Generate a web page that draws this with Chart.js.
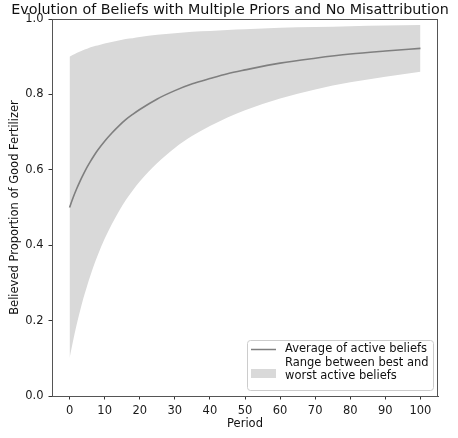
<!DOCTYPE html>
<html>
<head>
<meta charset="utf-8">
<script src="https://cdn.jsdelivr.net/npm/chart.js@4"></script>
<style>
  html, body { margin: 0; padding: 0; background: #fff; }
</style>
</head>
<body>
<canvas id="beliefChart" width="458" height="438"></canvas>
<script>
// belief paths over time
const periods       = [0, 1, 2, 3, 4, 5, 6, 7, 8, 10, 12, 14, 16, 18, 20, 25, 30, 35, 40, 45, 50, 60, 70, 80, 90, 100];
const averageBelief = [0.500, 0.526, 0.549, 0.570, 0.589, 0.607, 0.623, 0.638, 0.652, 0.676, 0.697, 0.716, 0.733, 0.747, 0.760, 0.788, 0.810, 0.828, 0.842, 0.855, 0.865, 0.883, 0.896, 0.907, 0.915, 0.922];
const bestBelief    = [0.900, 0.905, 0.910, 0.914, 0.918, 0.921, 0.925, 0.928, 0.930, 0.935, 0.939, 0.943, 0.947, 0.949, 0.952, 0.958, 0.962, 0.966, 0.968, 0.971, 0.973, 0.977, 0.979, 0.981, 0.983, 0.984];
const worstBelief   = [0.100, 0.146, 0.188, 0.226, 0.261, 0.292, 0.321, 0.348, 0.373, 0.417, 0.455, 0.489, 0.519, 0.545, 0.569, 0.618, 0.658, 0.690, 0.716, 0.739, 0.758, 0.789, 0.813, 0.832, 0.847, 0.860];

const xTicks = [0, 10, 20, 30, 40, 50, 60, 70, 80, 90, 100];
const yTicks = [0, 0.2, 0.4, 0.6, 0.8, 1.0];

const titleText = 'Evolution of Beliefs with Multiple Priors and No Misattribution';
const xLabel = 'Period';
const yLabel = 'Believed Proportion of Good Fertilizer';
const lineLabel = ['Average of active beliefs'];
const bandLabel = ['Range between best and', 'worst active beliefs'];

const FONT = '"DejaVu Sans", sans-serif';
const LINE_COLOR = '#7f7f7f';
const BAND_COLOR = '#d9d9d9';

const toPoints = ys => periods.map((p, i) => ({ x: p, y: ys[i] }));

// text, top/right spines and the legend are drawn by hand
const decorations = {
  id: 'decorations',
  afterDraw(chart) {
    const { ctx, chartArea: a } = chart;
    ctx.save();

    ctx.strokeStyle = '#555';
    ctx.lineWidth = 1;
    ctx.beginPath();
    ctx.moveTo(a.left, a.top + 0.5);
    ctx.lineTo(a.right, a.top + 0.5);
    ctx.moveTo(a.right - 0.5, a.top);
    ctx.lineTo(a.right - 0.5, a.bottom);
    ctx.stroke();

    const cx = (a.left + a.right) / 2;
    ctx.fillStyle = '#111';
    ctx.textAlign = 'center';
    ctx.textBaseline = 'alphabetic';
    ctx.font = '14.3px ' + FONT;
    ctx.fillText(titleText, 230, 14);

    ctx.font = '11.5px ' + FONT;
    ctx.textBaseline = 'middle';
    ctx.fillText(xLabel, cx, 424);

    ctx.save();
    ctx.translate(15, (a.top + a.bottom) / 2);
    ctx.rotate(-Math.PI / 2);
    ctx.fillText(yLabel, 0, 0);
    ctx.restore();

    // legend
    const lx = 247, ly = 340, lw = 186, lh = 50;
    ctx.beginPath();
    ctx.roundRect(lx + 0.5, ly + 0.5, lw, lh, 3);
    ctx.fillStyle = 'rgba(255,255,255,0.8)';
    ctx.fill();
    ctx.strokeStyle = '#cccccc';
    ctx.stroke();

    ctx.strokeStyle = LINE_COLOR;
    ctx.lineWidth = 1.5;
    ctx.beginPath();
    ctx.moveTo(251, 349.5);
    ctx.lineTo(276, 349.5);
    ctx.stroke();

    ctx.fillStyle = BAND_COLOR;
    ctx.fillRect(251, 369, 25, 9);

    ctx.fillStyle = '#111';
    ctx.textAlign = 'left';
    ctx.fillText(lineLabel[0], 285, 349.5);
    bandLabel.forEach((t, i) => ctx.fillText(t, 285, 363 + i * 13.5));

    ctx.restore();
  }
};

new Chart(document.getElementById('beliefChart'), {
  type: 'line',
  data: {
    datasets: [
      {
        label: lineLabel[0],
        data: toPoints(averageBelief),
        borderColor: LINE_COLOR,
        borderWidth: 1.6,
        pointRadius: 0,
        fill: false,
        cubicInterpolationMode: 'monotone'
      },
      {
        label: 'best',
        data: toPoints(bestBelief),
        borderWidth: 0,
        pointRadius: 0,
        backgroundColor: BAND_COLOR,
        fill: '+1',
        cubicInterpolationMode: 'monotone'
      },
      {
        label: 'worst',
        data: toPoints(worstBelief),
        borderWidth: 0,
        pointRadius: 0,
        backgroundColor: BAND_COLOR,
        fill: false,
        cubicInterpolationMode: 'monotone'
      }
    ]
  },
  options: {
    responsive: false,
    animation: false,
    devicePixelRatio: 1,
    layout: { padding: { top: 19, right: 20, left: 0, bottom: 0 } },
    plugins: {
      legend: { display: false },
      title: { display: false },
      tooltip: { enabled: false }
    },
    scales: {
      x: {
        type: 'linear',
        min: -5,
        max: 105,
        afterBuildTicks: s => { s.ticks = xTicks.map(v => ({ value: v })); },
        afterFit: s => { s.height = 42; },
        grid: { drawOnChartArea: false, tickLength: 3.5, color: '#333' },
        border: { color: '#555', width: 1 },
        ticks: { font: { family: FONT, size: 11.5 }, color: '#1a1a1a', padding: 5, maxRotation: 0 }
      },
      y: {
        min: 0,
        max: 1,
        afterBuildTicks: s => { s.ticks = yTicks.map(v => ({ value: v })); },
        afterFit: s => { s.width = 52; },
        grid: { drawOnChartArea: false, tickLength: 3.5, color: '#333' },
        border: { color: '#555', width: 1 },
        ticks: {
          font: { family: FONT, size: 11.5 },
          color: '#1a1a1a',
          padding: 5,
          callback: v => v.toFixed(1)
        }
      }
    }
  },
  plugins: [decorations]
});
</script>
</body>
</html>
